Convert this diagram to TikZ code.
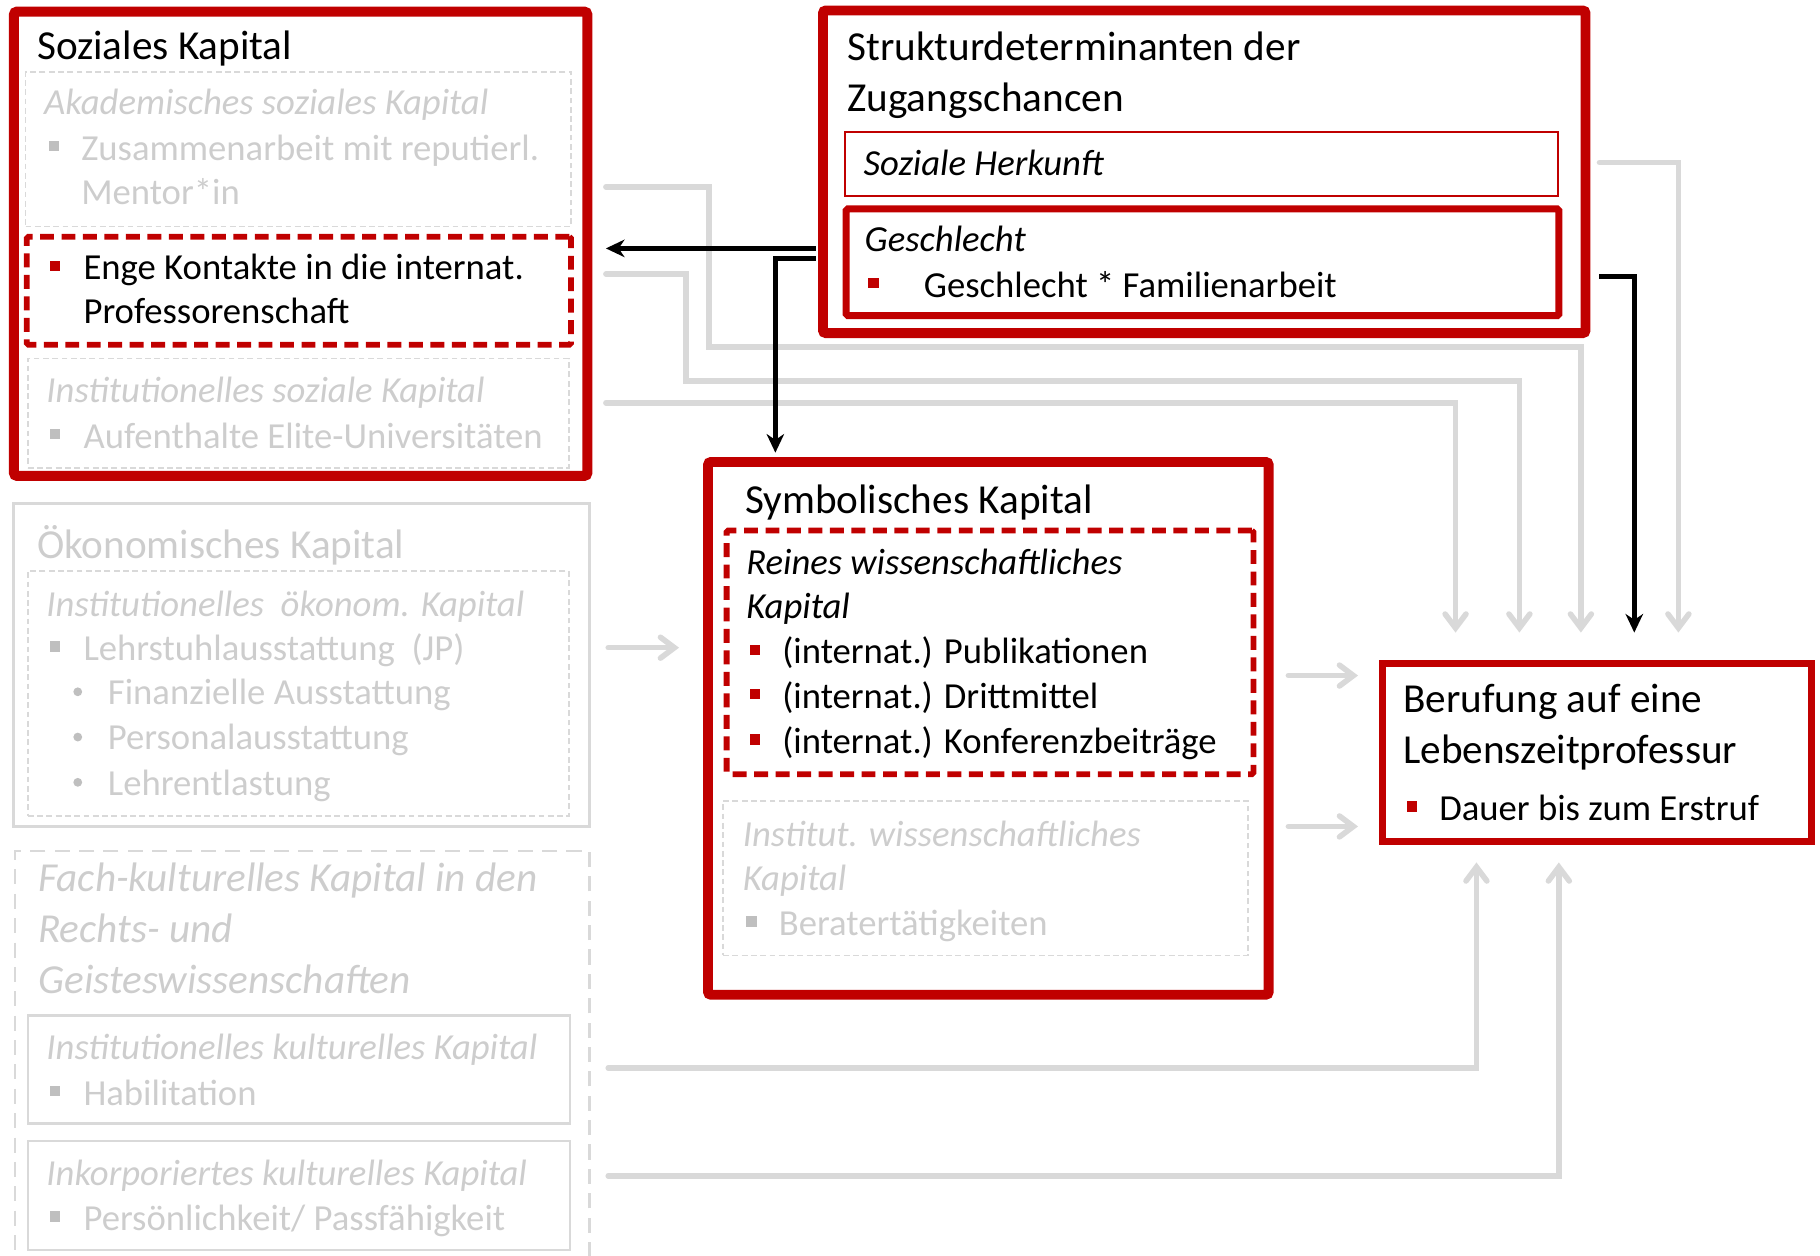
\documentclass[tikz,border=0pt]{standalone}
\usepackage{fontspec}
\setmainfont{Carlito}
\usetikzlibrary{arrows.meta,fit}

\definecolor{kred}{HTML}{C00000}
\definecolor{kline}{HTML}{D9D9D9}
\definecolor{ktext}{HTML}{CDCDCD}
\definecolor{kbul}{HTML}{BFBFBF}

\newcommand\fhead{\fontsize{35.5}{44}\selectfont}
\newcommand\fbody{\fontsize{31.6}{38.5}\selectfont}

\tikzset{
  frame/.style={rectangle, inner sep=0pt, fill=none},
  redbox/.style={frame, draw=kred, line width=8.5pt, rounded corners=2.5pt},
  redmid/.style={frame, draw=kred, line width=6pt, rounded corners=1.5pt},
  redthin/.style={frame, draw=kred, line width=1.5pt},
  reddash/.style={frame, draw=kred, line width=5pt, dash pattern=on 12pt off 6.5pt, rounded corners=1.5pt},
  graydash/.style={frame, draw=kline, line width=1.3pt, dash pattern=on 5pt off 3pt},
  graylong/.style={frame, draw=kline, line width=2pt, dash pattern=on 13pt off 8pt},
  graysolid/.style={frame, draw=kline, line width=2.5pt},
  graythin/.style={frame, draw=kline, line width=2pt},
  txt/.style={anchor=base west, inner sep=0pt, outer sep=0pt},
  head/.style={txt, font=\fhead},
  body/.style={txt, font=\fbody},
  ital/.style={txt, font=\fbody\itshape},
  faded/.style={text=ktext},
  garrow/.style={draw=kline, line width=4.8pt, line cap=round,
    -{Straight Barb[length=12pt,width=18pt,line cap=round]}},
  barrow/.style={draw=black, line width=4.3pt,
    -{Stealth[length=16pt,width=15pt,inset=5pt]}},
}

\begin{document}
\begin{tikzpicture}[x=1pt,y=-1pt]
\useasboundingbox (0,0) rectangle (1568,1082);
\clip (0,0) rectangle (1568,1082);

% ---------- Soziales Kapital ----------
\node[redbox, fit={(12,10)(506,410)}] (soz) {};
\node[head] (sozT) at (32,51) {Soziales Kapital};
\node[graydash, fit={(22,62)(492,195)}] (akad) {};
\node[ital, faded] (akadT) at (38,99) {Akademisches soziales Kapital};
\fill[kbul] (42,121.5) rectangle (51,130.5);
\node[body, faded] (akad1) at (70,138) {Zusammenarbeit mit reputierl.};
\node[body, faded] (akad2) at (70,176) {Mentor*in};
\node[reddash, fit={(23,204)(492,297)}] (enge) {};
\fill[kred] (43,224.5) rectangle (52,233.5);
\node[body] (enge1) at (72,241) {Enge Kontakte in die internat.};
\node[body] (enge2) at (72,279) {Professorenschaft};
\node[graydash, fit={(24,309)(490,403)}] (insoz) {};
\node[ital, faded] (insozT) at (40,347) {Institutionelles soziale Kapital};
\fill[kbul] (43,369.5) rectangle (52,378.5);
\node[body, faded] (insoz1) at (72,386) {Aufenthalte Elite-Universitäten};

% ---------- Ökonomisches Kapital ----------
\node[graysolid, fit={(12,434)(508,712)}] (oek) {};
\node[head, faded] (oekT) at (32,481) {Ökonomisches Kapital};
\node[graydash, fit={(24,492)(490,703)}] (oekin) {};
\node[ital, faded] (oekinT) at (40,531) {Institutionelles\ \ ökonom. Kapital};
\fill[kbul] (43,552.5) rectangle (52,561.5);
\node[body, faded] (oek1) at (72,569) {Lehrstuhlausstattung\ \ (JP)};
\fill[kbul] (67,596) circle (3.8);
\node[body, faded] (oek2) at (93,607) {Finanzielle Ausstattung};
\fill[kbul] (67,635) circle (3.8);
\node[body, faded] (oek3) at (93,646) {Personalausstattung};
\fill[kbul] (67,674) circle (3.8);
\node[body, faded] (oek4) at (93,685) {Lehrentlastung};

% ---------- Fach-kulturelles Kapital ----------
\node[graylong, fit={(13,733)(508,1092)}] (fach) {};
\node[head, faded, font=\fhead\itshape] (fachT1) at (33,768) {Fach-kulturelles Kapital in den};
\node[head, faded, font=\fhead\itshape] (fachT2) at (33,812) {Rechts- und};
\node[head, faded, font=\fhead\itshape] (fachT3) at (33,856) {Geisteswissenschaften};
\node[graythin, fit={(24,875)(491,968)}] (habil) {};
\node[ital, faded] (habilT) at (40,913) {Institutionelles kulturelles Kapital};
\fill[kbul] (43,935.5) rectangle (52,944.5);
\node[body, faded] (habil1) at (72,952) {Habilitation};
\node[graythin, fit={(24,983)(491,1077)}] (inkorp) {};
\node[ital, faded] (inkorpT) at (40,1021) {Inkorporiertes kulturelles Kapital};
\fill[kbul] (43,1043.5) rectangle (52,1052.5);
\node[body, faded] (inkorp1) at (72,1060) {Persönlichkeit/ Passfähigkeit};

% ---------- Strukturdeterminanten ----------
\node[redbox, fit={(709,9)(1366,287)}] (struk) {};
\node[head] (strukT1) at (730,52) {Strukturdeterminanten der};
\node[head] (strukT2) at (730,96) {Zugangschancen};
\node[redthin, fit={(728,114)(1342,169)}] (herk) {};
\node[ital] (herkT) at (744,151) {Soziale Herkunft};
\node[redmid, fit={(729,180)(1343,272)}] (geschl) {};
\node[ital] (geschlT) at (745,217) {Geschlecht};
\fill[kred] (748,239.5) rectangle (757,248.5);
\node[body] (geschl1) at (796,256) {Geschlecht * Familienarbeit};

% ---------- Symbolisches Kapital ----------
\node[redbox, fit={(610,398)(1093,857)}] (sym) {};
\node[head] (symT) at (642,442) {Symbolisches Kapital};
\node[reddash, fit={(626,457)(1080,667)}] (rein) {};
\node[ital] (reinT1) at (643,495) {Reines wissenschaftliches};
\node[ital] (reinT2) at (643,533) {Kapital};
\fill[kred] (646,555.5) rectangle (655,564.5);
\node[body] (rein1) at (674,572) {(internat.) Publikationen};
\fill[kred] (646,593.5) rectangle (655,602.5);
\node[body] (rein2) at (674,610) {(internat.) Drittmittel};
\fill[kred] (646,632.5) rectangle (655,641.5);
\node[body] (rein3) at (674,649) {(internat.) Konferenzbeiträge};
\node[graydash, fit={(623,690)(1075,823)}] (instw) {};
\node[ital, faded] (instwT1) at (640,729) {Institut. wissenschaftliches};
\node[ital, faded] (instwT2) at (640,767) {Kapital};
\fill[kbul] (643,789.5) rectangle (652,798.5);
\node[body, faded] (instw1) at (671,806) {Beratertätigkeiten};

% ---------- Berufung ----------
\node[redmid, rounded corners=0pt, fit={(1191,572)(1561,725)}] (beruf) {};
\node[head] (berufT1) at (1209,614) {Berufung auf eine};
\node[head] (berufT2) at (1209,658) {Lebenszeitprofessur};
\fill[kred] (1212,690.5) rectangle (1221,699.5);
\node[body] (beruf1) at (1240,707) {Dauer bis zum Erstruf};

% ---------- connector ends ----------
\coordinate (sozA) at (522,161);
\coordinate (sozB) at (522,236);
\coordinate (sozC) at (522,347);
\coordinate (sozIn) at (522,214);
\coordinate (oekA) at (524,558);
\coordinate (oekIn) at (585,558);
\coordinate (fachA) at (524,920);
\coordinate (fachB) at (524,1013);
\coordinate (strukL1) at (703,214);
\coordinate (strukL2) at (703,223);
\coordinate (strukR1) at (1378,140);
\coordinate (strukR2) at (1378,238);
\coordinate (symIn) at (668,390);
\coordinate (symA) at (1110,582);
\coordinate (symB) at (1110,712);
\coordinate (berL1) at (1170,582);
\coordinate (berL2) at (1170,712);
\coordinate (berT1) at (1254,545);
\coordinate (berT2) at (1309,545);
\coordinate (berT3) at (1362,545);
\coordinate (berT4) at (1408,545);
\coordinate (berT5) at (1446,545);
\coordinate (berB1) at (1272,743);
\coordinate (berB2) at (1343,743);

% ---------- gray connectors ----------
\draw[garrow] (strukR1) -| (berT5);
\draw[garrow] (sozA) -| (611,299) -| (berT3);
\draw[garrow] (sozB) -| (591,328) -| (berT2);
\draw[garrow] (sozC) -| (berT1);
\draw[garrow] (oekA) -- (oekIn);
\draw[garrow] (symA) -- (berL1);
\draw[garrow] (symB) -- (berL2);
\draw[garrow] (fachA) -| (berB1);
\draw[garrow] (fachB) -| (berB2);

% ---------- black connectors ----------
\draw[barrow] (strukL1) -- (sozIn);
\draw[barrow] (strukL2) -| (symIn);
\draw[barrow] (strukR2) -| (berT4);
\end{tikzpicture}
\end{document}
